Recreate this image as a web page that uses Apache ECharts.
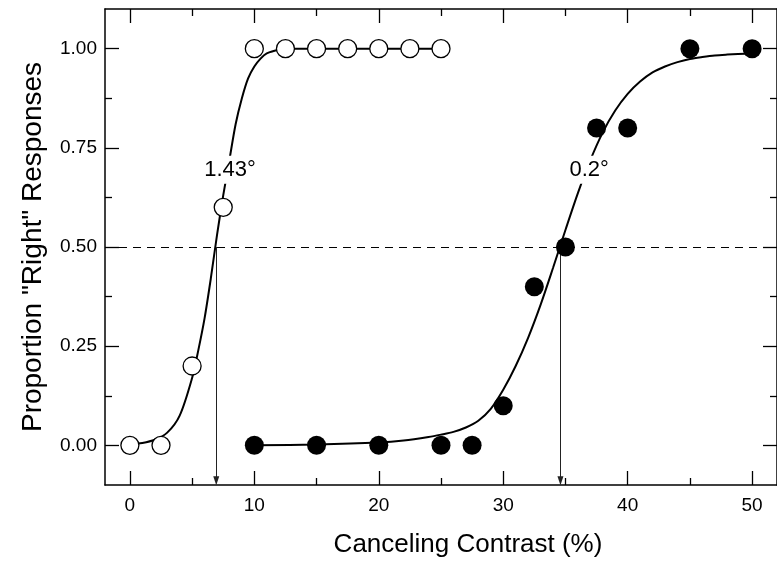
<!DOCTYPE html>
<html>
<head>
<meta charset="utf-8">
<script src="https://cdn.jsdelivr.net/npm/echarts@6/dist/echarts.min.js"></script>
<style>
  html, body { margin: 0; padding: 0; background: #fff; }
  #main { width: 777px; height: 563px; }
</style>
</head>
<body>
<div id="main"></div>
<script>
// tick positions
const xMajor = [0, 10, 20, 30, 40, 50];
const xMinor = [5, 15, 25, 35, 45];
const yMajor = [0, 0.25, 0.5, 0.75, 1];
const yMinor = [0.125, 0.375, 0.625, 0.875];

// open circles (left condition)
const openX = [0, 2.5, 5, 7.5, 10, 12.5, 15, 17.5, 20, 22.5, 25];
const openY = [0, 0, 0.2, 0.6, 1, 1, 1, 1, 1, 1, 1];

// filled circles (right condition)
const filledX = [10, 15, 20, 25, 27.5, 30, 32.5, 35, 37.5, 40, 45, 50];
const filledY = [0, 0, 0, 0, 0, 0.1, 0.4, 0.5, 0.8, 0.8, 1, 1];

// fitted curves
const leftCurveX = [0, 1, 2, 3, 4, 5, 5.5, 6, 6.5, 7, 7.5, 8, 8.5, 9, 9.5, 10, 10.5, 11, 12, 13, 25];
const leftCurveY = [0.003, 0.006, 0.014, 0.032, 0.075, 0.17, 0.24, 0.32, 0.42, 0.53, 0.63, 0.72, 0.81, 0.875, 0.925, 0.955, 0.975, 0.988, 0.997, 1, 1];

const rightCurveX = [10, 15, 20, 22, 24, 25, 26, 27, 28, 29, 30, 31, 32, 33, 34, 35, 36, 37, 38, 39, 40, 41, 42, 43, 44, 45, 46, 47, 48, 50];
const rightCurveY = [0, 0.002, 0.007, 0.012, 0.021, 0.027, 0.034, 0.045, 0.062, 0.092, 0.14, 0.2, 0.271, 0.354, 0.447, 0.543, 0.636, 0.719, 0.789, 0.844, 0.886, 0.917, 0.94, 0.955, 0.966, 0.974, 0.979, 0.983, 0.985, 0.988];

// thresholds (50% points) and their labels
const thresholdX = [6.94, 34.6];
const annotationX = [8.05, 36.9];
const annotationY = [0.695, 0.695];
const annotationText = ['1.43°', '0.2°'];

const FONT = 'Liberation Sans';
const X_MIN = -2, X_MAX = 52, Y_MIN = -0.1, Y_MAX = 1.1;

function zip(xs, ys) {
    return xs.map(function (x, i) { return [x, ys[i]]; });
}

function xAxisFor(position, ticks, len, showLabels, showLine) {
    return {
        type: 'value', min: X_MIN, max: X_MAX, position: position,
        axisLine: { show: showLine, onZero: false, lineStyle: { color: '#000', width: 1.5 } },
        axisTick: { show: true, inside: true, length: len, customValues: ticks, lineStyle: { color: '#000', width: 1.3 } },
        axisLabel: { show: showLabels, customValues: ticks, fontSize: 19, fontFamily: FONT, color: '#000', margin: 11 },
        splitLine: { show: false }
    };
}

function yAxisFor(position, ticks, len, showLabels, showLine) {
    return {
        type: 'value', min: Y_MIN, max: Y_MAX, position: position,
        axisLine: { show: showLine, onZero: false, lineStyle: { color: '#000', width: 1.5 } },
        axisTick: { show: true, inside: true, length: len, customValues: ticks, lineStyle: { color: '#000', width: 1.3 } },
        axisLabel: {
            show: showLabels, customValues: ticks, fontSize: 19, fontFamily: FONT, color: '#000', margin: 8,
            formatter: function (v) { return v.toFixed(2); }
        },
        splitLine: { show: false }
    };
}

const chart = echarts.init(document.getElementById('main'));

chart.setOption({
    animation: false,
    backgroundColor: '#fff',
    grid: { left: 105, top: 9, right: -9, bottom: 78 },
    xAxis: [
        xAxisFor('bottom', xMajor, 14, true, true),
        xAxisFor('bottom', xMinor, 7, false, false),
        xAxisFor('top', xMajor, 14, false, true),
        xAxisFor('top', xMinor, 7, false, false)
    ],
    yAxis: [
        yAxisFor('left', yMajor, 14, true, true),
        yAxisFor('left', yMinor, 7, false, false),
        yAxisFor('right', yMajor, 14, false, true),
        yAxisFor('right', yMinor, 7, false, false)
    ],
    graphic: [
        {
            type: 'text', x: 468, y: 545,
            style: {
                text: 'Canceling Contrast (%)', fontSize: 26, fontFamily: FONT, fill: '#000',
                align: 'center', verticalAlign: 'middle', textAlign: 'center', textVerticalAlign: 'middle'
            }
        },
        {
            type: 'text', x: 33, y: 247, rotation: Math.PI / 2,
            style: {
                text: 'Proportion "Right" Responses', fontSize: 28, fontFamily: FONT, fill: '#000',
                align: 'center', verticalAlign: 'middle', textAlign: 'center', textVerticalAlign: 'middle'
            }
        }
    ],
    series: [
        {
            type: 'line', name: 'left fit', data: zip(leftCurveX, leftCurveY),
            showSymbol: false, smooth: 0.3, z: 2,
            lineStyle: { color: '#000', width: 2 },
            markLine: {
                silent: true, symbol: ['none', 'none'],
                label: { show: false },
                lineStyle: { color: '#000', width: 1, type: [8, 6] },
                data: [{ yAxis: 0.5 }]
            }
        },
        {
            type: 'line', name: 'right fit', data: zip(rightCurveX, rightCurveY),
            showSymbol: false, smooth: 0.3, z: 2,
            lineStyle: { color: '#000', width: 2 },
            markLine: {
                silent: true, symbol: ['none', 'triangle'], symbolSize: [6, 9],
                label: { show: false },
                lineStyle: { color: '#222', width: 1, type: 'solid' },
                data: thresholdX.map(function (x) {
                    return [{ coord: [x, 0.5] }, { coord: [x, -0.089] }];
                })
            }
        },
        {
            type: 'scatter', name: 'labels', z: 4,
            data: zip(annotationX, annotationY),
            symbolSize: 1, itemStyle: { color: '#fff', opacity: 1 },
            label: {
                show: true, position: 'inside', fontSize: 22, fontFamily: FONT, color: '#000',
                backgroundColor: '#fff', padding: [3, 2],
                formatter: function (p) { return annotationText[p.dataIndex]; }
            }
        },
        {
            type: 'scatter', name: 'open', z: 5,
            data: zip(openX, openY), symbolSize: 18,
            itemStyle: { color: '#fff', borderColor: '#000', borderWidth: 1.3, opacity: 1 }
        },
        {
            type: 'scatter', name: 'filled', z: 5,
            data: zip(filledX, filledY), symbolSize: 19,
            itemStyle: { color: '#000', opacity: 1 }
        }
    ]
});
</script>
</body>
</html>
